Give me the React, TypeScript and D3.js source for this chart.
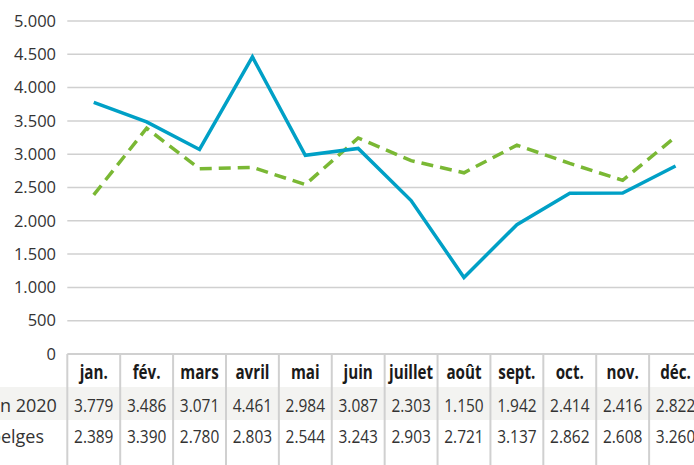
import React, { useEffect, useRef } from 'react'
import * as d3 from 'd3'

const months = ['jan.', 'fév.', 'mars', 'avril', 'mai', 'juin', 'juillet', 'août', 'sept.', 'oct.', 'nov.', 'déc.']
const series2020 = [3779, 3486, 3071, 4461, 2984, 3087, 2303, 1150, 1942, 2414, 2416, 2822]
const seriesBelges = [2389, 3390, 2780, 2803, 2544, 3243, 2903, 2721, 3137, 2862, 2608, 3260]
const rowLabels = ['Total en 2020', 'Total belges']
const yTicks = [0, 500, 1000, 1500, 2000, 2500, 3000, 3500, 4000, 4500, 5000]

const fmt = (v: number) => d3.format(',')(v).replace(/,/g, '.')

export default function App() {
  const ref = useRef<SVGSVGElement>(null)

  useEffect(() => {
    if (!ref.current) return
    const svg = d3.select(ref.current)
    svg.selectAll('*').remove()

    const width = 694
    const height = 465
    const left = 67.3
    const right = 702
    const top = 21
    const bottom = 354
    const font = "'Open Sans', sans-serif"
    const squeeze = 0.86

    const x = d3.scaleBand().domain(months).range([left, right])
    const y = d3.scaleLinear().domain([0, 5000]).range([bottom, top])
    const cx = (m: string) => (x(m) as number) + x.bandwidth() / 2

    // shaded first data row
    svg.append('rect')
      .attr('x', 0).attr('y', 387).attr('width', width).attr('height', 33)
      .attr('fill', '#f3f3f1')

    // gridlines
    svg.append('g').selectAll('line')
      .data(yTicks.filter(t => t > 0))
      .join('line')
      .attr('x1', left).attr('x2', width)
      .attr('y1', d => y(d)).attr('y2', d => y(d))
      .attr('stroke', '#d0d0d0').attr('stroke-width', 1.5)

    // y labels
    svg.append('g').selectAll('text')
      .data(yTicks)
      .join('text')
      .attr('x', 56).attr('y', d => y(d)).attr('dy', '0.35em')
      .attr('text-anchor', 'end')
      .style('font-family', font).style('font-size', '16.5px').style('fill', '#333')
      .text(d => fmt(d))

    // table frame
    svg.append('line')
      .attr('x1', left).attr('x2', width).attr('y1', bottom).attr('y2', bottom)
      .attr('stroke', '#d0d0d0').attr('stroke-width', 2)
    svg.append('g').selectAll('line')
      .data(months)
      .join('line')
      .attr('x1', d => x(d) as number).attr('x2', d => x(d) as number)
      .attr('y1', bottom).attr('y2', height)
      .attr('stroke', '#d0d0d0').attr('stroke-width', 2)

    // header
    svg.append('g').selectAll('text')
      .data(months)
      .join('text')
      .attr('transform', d => `translate(${cx(d)},379) scale(0.8,1)`)
      .attr('text-anchor', 'middle')
      .style('font-family', font).style('font-weight', 'bold').style('font-size', '19px').style('fill', '#1a1a1a')
      .text(d => d)

    // rows
    const rows = [series2020, seriesBelges]
    const baselines = [412, 443]
    rows.forEach((vals, i) => {
      svg.append('text')
        .attr('x', -56.5).attr('y', baselines[i])
        .style('font-family', font).style('font-size', '18px').style('fill', '#333')
        .text(rowLabels[i])
      svg.append('g').selectAll('text')
        .data(vals)
        .join('text')
        .attr('transform', (_, j) => `translate(${cx(months[j])},${baselines[i]}) scale(${squeeze},1)`)
        .attr('text-anchor', 'middle')
        .style('font-family', font).style('font-size', '18px').style('fill', '#333')
        .text(d => fmt(d))
    })

    // lines
    const line = d3.line<number>()
      .x((_, j) => cx(months[j]))
      .y(d => y(d))

    svg.append('path')
      .datum(seriesBelges)
      .attr('d', line)
      .attr('fill', 'none')
      .attr('stroke', '#7ab834').attr('stroke-width', 3.5)
      .attr('stroke-dasharray', '12 7')

    svg.append('path')
      .datum(series2020)
      .attr('d', line)
      .attr('fill', 'none')
      .attr('stroke', '#00a0c6').attr('stroke-width', 3.5)
  }, [])

  return (
    <div style={{ position: 'fixed', left: 0, top: 0 }}>
      <svg ref={ref} width={694} height={465} style={{ display: 'block', background: '#fff' }} />
    </div>
  )
}
